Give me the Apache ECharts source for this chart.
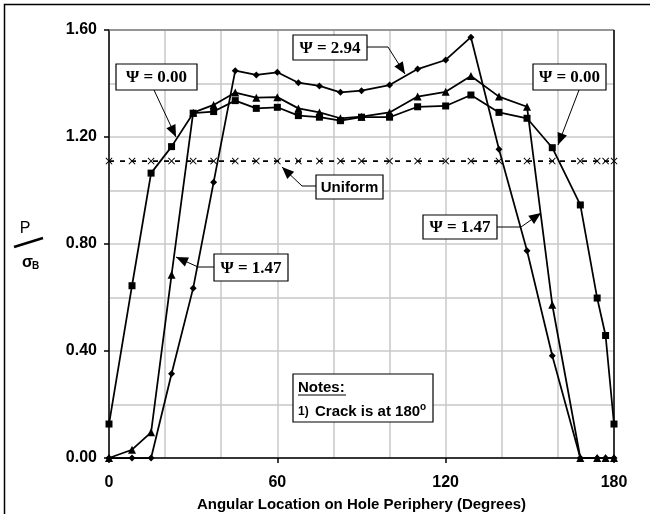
<!DOCTYPE html>
<html>
<head>
<meta charset="utf-8">
<script src="https://cdn.jsdelivr.net/npm/echarts@6/dist/echarts.min.js"></script>
<style>
html,body{margin:0;padding:0;background:#fff;}
#chart{width:650px;height:514px;}
</style>
</head>
<body>
<div id="chart"></div>
<script>
// Angular locations (degrees)
var angles = [0, 8.2, 15, 22.3, 30, 37.3, 45, 52.5, 60, 67.5, 75, 82.5, 90, 100, 110, 120, 129, 139, 149, 158, 168, 174, 177, 180];
// Psi = 0.00 (squares)
var psi000 = [0.127, 0.644, 1.065, 1.164, 1.289, 1.295, 1.336, 1.307, 1.311, 1.280, 1.274, 1.261, 1.274, 1.274, 1.313, 1.316, 1.357, 1.292, 1.270, 1.160, 0.946, 0.598, 0.458, 0.127];
// Psi = 1.47 (triangles)
var psi147 = [0, 0.031, 0.096, 0.685, 1.291, 1.320, 1.366, 1.347, 1.349, 1.307, 1.292, 1.270, 1.276, 1.292, 1.351, 1.369, 1.428, 1.351, 1.313, 0.573, 0, 0, 0, 0];
// Psi = 2.94 (diamonds)
var psi294 = [0, 0, 0, 0.315, 0.635, 1.031, 1.448, 1.432, 1.442, 1.403, 1.391, 1.367, 1.373, 1.394, 1.454, 1.488, 1.573, 1.154, 0.775, 0.382, 0, 0, 0, 0];
// Uniform distribution
var uniform = [1.11, 1.11, 1.11, 1.11, 1.11, 1.11, 1.11, 1.11, 1.11, 1.11, 1.11, 1.11, 1.11, 1.11, 1.11, 1.11, 1.11, 1.11, 1.11, 1.11, 1.11, 1.11, 1.11, 1.11];

var xTitle = 'Angular Location on Hole Periphery (Degrees)';

function pairs(xs, ys){ return xs.map(function(x,i){ return [x, ys[i]]; }); }

var SANS = '"Liberation Sans", Arial, sans-serif';
var SERIF = '"Liberation Serif", "Times New Roman", serif';
var crossPath = 'path://M0,1L1,0L5,4L9,0L10,1L6,5L10,9L9,10L5,6L1,10L0,9L4,5Z';

function arrowHead(x1,y1,x2,y2){
  var dx=x2-x1, dy=y2-y1, L=Math.sqrt(dx*dx+dy*dy); dx/=L; dy/=L;
  var len=12, hw=5;
  var bx=x2-dx*len, by=y2-dy*len;
  return {type:'polygon', shape:{points:[[x2,y2],[bx-dy*hw,by+dx*hw],[bx+dy*hw,by-dx*hw]]}, style:{fill:'#000'}, z:100};
}
function callout(pts){
  var n=pts.length;
  return [
    {type:'polyline', shape:{points:pts}, style:{stroke:'#000', lineWidth:1, fill:null}, z:100},
    arrowHead(pts[n-2][0],pts[n-2][1],pts[n-1][0],pts[n-1][1])
  ];
}
function box(x,y,w,h,text,font,size){
  return [
    {type:'rect', shape:{x:x,y:y,width:w,height:h}, style:{fill:'#fff', stroke:'#000', lineWidth:1.2}, z:101},
    {type:'text', x:x+w/2, y:y+h/2+1, style:{text:text, fill:'#000', font:'bold '+size+'px '+font, textAlign:'center', textVerticalAlign:'middle'}, z:102}
  ];
}

var g = [];
// outer frame (top and left visible)
g.push({type:'rect', shape:{x:4.5,y:4.5,width:700,height:600}, style:{fill:null, stroke:'#000', lineWidth:1.5}, z:0});
// plot frame top (gray) and right (black)
g.push({type:'line', shape:{x1:109,y1:30,x2:614,y2:30}, style:{stroke:'#808080', lineWidth:1.5}, z:5});
g.push({type:'line', shape:{x1:614,y1:30,x2:614,y2:458}, style:{stroke:'#000', lineWidth:1.5}, z:5});
// y-axis title P / sigma_B
g.push({type:'text', x:25, y:229, style:{text:'P', fill:'#000', font:'16px '+SANS, textAlign:'center', textVerticalAlign:'middle'}});
g.push({type:'line', shape:{x1:14,y1:247,x2:43,y2:238}, style:{stroke:'#000', lineWidth:2.5}});
g.push({type:'text', x:22, y:263, style:{text:'σ', fill:'#000', font:'bold 16px '+SANS, textAlign:'left', textVerticalAlign:'middle'}});
g.push({type:'text', x:32, y:266, style:{text:'B', fill:'#000', font:'bold 10px '+SANS, textAlign:'left', textVerticalAlign:'middle'}});

// callouts
g = g.concat(callout([[367,47],[388,47],[405,74]]));
g = g.concat(box(293,35,74,25,'Ψ = 2.94',SERIF,17));
g = g.concat(callout([[154,90],[176,137]]));
g = g.concat(box(116,64,81,26,'Ψ = 0.00',SERIF,17));
g = g.concat(callout([[579,90],[558,145]]));
g = g.concat(box(533,64,73,26,'Ψ = 0.00',SERIF,17));
g = g.concat(callout([[316,186],[302,186],[282,167]]));
g = g.concat(box(316,175,67,24,'Uniform',SANS,15));
g = g.concat(callout([[214,267],[198,267],[176,257]]));
g = g.concat(box(214,254,74,27,'Ψ = 1.47',SERIF,17));
g = g.concat(callout([[497,227],[521,227],[541,213]]));
g = g.concat(box(423,215,74,24,'Ψ = 1.47',SERIF,17));

// Notes box
g.push({type:'rect', shape:{x:293,y:374,width:140,height:48}, style:{fill:'#fff', stroke:'#000', lineWidth:1.2}, z:101});
g.push({type:'text', x:298, y:388, style:{text:'Notes:', fill:'#000', font:'bold 15px '+SANS, textAlign:'left', textVerticalAlign:'middle'}, z:102});
g.push({type:'line', shape:{x1:298,y1:395,x2:346,y2:395}, style:{stroke:'#000', lineWidth:1.2}, z:102});
g.push({type:'text', x:298, y:412, style:{text:'1)', fill:'#000', font:'bold 12px '+SANS, textAlign:'left', textVerticalAlign:'middle'}, z:102});
g.push({type:'text', x:315, y:412, style:{text:'Crack is at 180', fill:'#000', font:'bold 15px '+SANS, textAlign:'left', textVerticalAlign:'middle'}, z:102});
g.push({type:'text', x:420, y:407, style:{text:'o', fill:'#000', font:'bold 10px '+SANS, textAlign:'left', textVerticalAlign:'middle'}, z:102});

var lineStyle = {color:'#000', width:1.75};
var chart = echarts.init(document.getElementById('chart'), null, {renderer:'canvas'});
chart.setOption({
  animation:false,
  backgroundColor:'#fff',
  grid:{left:109, right:36, top:30, bottom:56, containLabel:false, outerBoundsMode:'none'},
  xAxis:{
    type:'value', min:0, max:180, interval:60,
    name:xTitle, nameLocation:'middle', nameGap:39,
    nameTextStyle:{color:'#000', fontWeight:'bold', fontSize:15, fontFamily:SANS},
    axisLine:{show:true, onZero:false, lineStyle:{color:'#000', width:1.5}},
    axisTick:{show:true, inside:false, length:5, lineStyle:{color:'#000', width:1.5}},
    axisLabel:{color:'#000', fontWeight:'bold', fontSize:16, fontFamily:SANS, margin:17},
    splitLine:{show:true, lineStyle:{color:'#c8c8c8', width:1.5}},
    minorTick:{show:false, splitNumber:3},
    minorSplitLine:{show:true, lineStyle:{color:'#c8c8c8', width:1.5}}
  },
  yAxis:{
    type:'value', min:0, max:1.6, interval:0.4,
    axisLine:{show:true, onZero:false, lineStyle:{color:'#000', width:1.5}},
    axisTick:{show:true, inside:false, length:5, lineStyle:{color:'#000', width:1.5}},
    axisLabel:{color:'#000', fontWeight:'bold', fontSize:16, fontFamily:SANS, margin:12,
      formatter:function(v){ return v.toFixed(2); }},
    splitLine:{show:true, lineStyle:{color:'#c8c8c8', width:1.5}},
    minorTick:{show:false, splitNumber:2},
    minorSplitLine:{show:true, lineStyle:{color:'#c8c8c8', width:1.5}}
  },
  series:[
    {type:'line', name:'Uniform', data:pairs(angles, uniform), clip:false,
     symbol:crossPath, symbolSize:7, itemStyle:{color:'#000'},
     lineStyle:{color:'#000', width:1.75, type:[5,6]}, z:3},
    {type:'line', name:'Ψ = 0.00', data:pairs(angles, psi000), clip:false,
     symbol:'rect', symbolSize:7, itemStyle:{color:'#000'}, lineStyle:lineStyle, z:4},
    {type:'line', name:'Ψ = 1.47', data:pairs(angles, psi147), clip:false,
     symbol:'triangle', symbolSize:8, itemStyle:{color:'#000'}, lineStyle:lineStyle, z:4},
    {type:'line', name:'Ψ = 2.94', data:pairs(angles, psi294), clip:false,
     symbol:'diamond', symbolSize:7, itemStyle:{color:'#000'}, lineStyle:lineStyle, z:4}
  ],
  graphic:g
});
</script>
</body>
</html>
